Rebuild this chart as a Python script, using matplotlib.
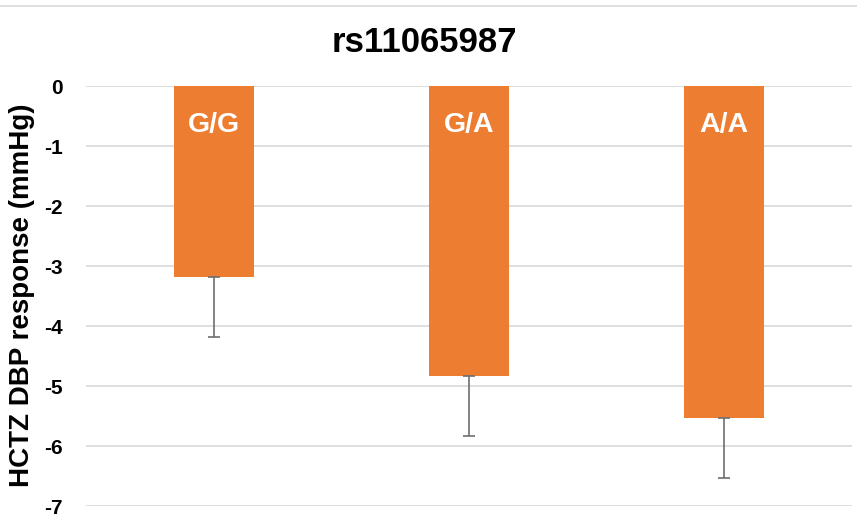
import matplotlib.pyplot as plt
from matplotlib.lines import Line2D

# values
genotypes = ['G/G', 'G/A', 'A/A']
dbp_response = [-3.19, -4.83, -5.53]
dbp_error = [1.0, 1.0, 1.0]
y_ticks = [0, -1, -2, -3, -4, -5, -6, -7]

BAR_COLOR = '#ED7D31'
GRID_COLOR = '#D9D9D9'

plt.rcParams['font.family'] = ['Liberation Sans', 'DejaVu Sans']
plt.rcParams['font.weight'] = 'bold'

fig = plt.figure(figsize=(8.57, 5.19), dpi=100)
ax = fig.add_axes([86 / 857, 13 / 519, 766 / 857, 420 / 519])

x = range(len(genotypes))
ax.bar(x, dbp_response, width=80 / 255, color=BAR_COLOR, zorder=2)
ax.errorbar(x, dbp_response, yerr=[[e for e in dbp_error], [0] * len(dbp_error)],
            fmt='none', ecolor='#6E6E6E', elinewidth=1.2, capsize=4, capthick=1.2, zorder=3)

for xi, name in zip(x, genotypes):
    ax.text(xi, -0.65, name, color='white', fontsize=20.5, fontweight='bold',
            ha='center', va='center', zorder=4)

ax.set_xlim(-0.5, len(genotypes) - 0.5)
ax.set_ylim(-7, 0)
ax.set_yticks(y_ticks)
ax.set_yticklabels([str(t) for t in y_ticks], fontsize=15, fontweight='bold')
ax.tick_params(axis='y', length=0, pad=17)
ax.set_xticks([])
ax.yaxis.grid(True, color=GRID_COLOR, linewidth=1.2, zorder=0)
ax.set_axisbelow(True)
for side in ['top', 'right', 'bottom', 'left']:
    ax.spines[side].set_visible(False)

# y label placed on the figure so it sits close to the left edge
fig.text(22 / 857, 1 - 295 / 519, 'HCTZ DBP response (mmHg)', fontsize=20, fontweight='bold',
         rotation=90, ha='center', va='center')

fig.text(424 / 857, 1 - 42 / 519, 'rs11065987', fontsize=25, fontweight='bold',
         ha='center', va='center')
fig.add_artist(Line2D([0, 1], [1 - 6 / 519, 1 - 6 / 519], color=GRID_COLOR, linewidth=1.2))

fig.savefig('out.png', dpi=100)
